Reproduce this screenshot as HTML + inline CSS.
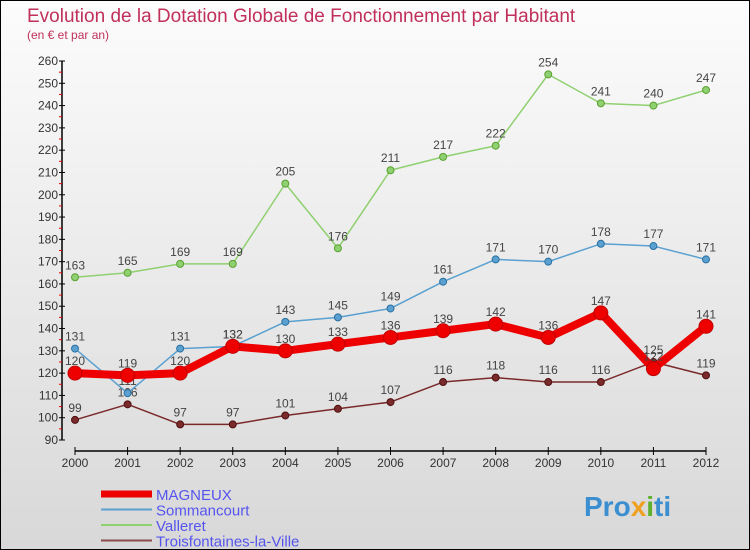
<!DOCTYPE html>
<html><head><meta charset="utf-8"><style>
body{margin:0;}
#c{width:748px;height:548px;border:1px solid #000;background:linear-gradient(#fcfcfc,#d8d8d8);position:relative;overflow:hidden;font-family:"Liberation Sans",sans-serif;}
</style></head><body>
<div id="c">
<svg id="s" width="748" height="548" xmlns="http://www.w3.org/2000/svg">
<text x="26" y="21" font-size="19" fill="#c0305a">Evolution de la Dotation Globale de Fonctionnement par Habitant</text>
<text x="26" y="38" font-size="12" fill="#c0305a">(en € et par an)</text>
<g id="axes"></g><g id="series"></g><g id="legend"></g>
<text x="583" y="515" font-size="28" font-weight="bold" fill="#3b8fd0">Pro<tspan fill="#f0a020">x</tspan><tspan fill="#60b030">i</tspan>ti</text>
</svg>
</div>
<script>
const years=[2000,2001,2002,2003,2004,2005,2006,2007,2008,2009,2010,2011,2012];
const yTicks=[90,100,110,120,130,140,150,160,170,180,190,200,210,220,230,240,250,260];
const magneux=[120,119,120,132,130,133,136,139,142,136,147,122,141];
const sommancourt=[131,111,131,132,143,145,149,161,171,170,178,177,171];
const valleret=[163,165,169,169,205,176,211,217,222,254,241,240,247];
const troisfontaines=[99,106,97,97,101,104,107,116,118,116,116,125,119];
const NS="http://www.w3.org/2000/svg";
function X(i){return 74+i*(631/12);}
function Y(v){return 439-(v-90)*(379/170);}
function mk(tag,attrs,parent){const e=document.createElementNS(NS,tag);for(const k in attrs)e.setAttribute(k,attrs[k]);parent.appendChild(e);return e;}
const ax=document.getElementById('axes');
let l=mk('line',{x1:61,y1:Y(260),x2:61,y2:Y(90),stroke:'#000','stroke-width':1.5},ax);


yTicks.forEach(v=>{
 let t=mk('line',{x1:58,y1:Y(v),x2:64,y2:Y(v),stroke:'#000'},ax);
 
 
 if(v<260){
 let r=mk('line',{x1:58,y1:Y(v+5),x2:61,y2:Y(v+5),stroke:'#e00'},ax);
 
 
 }
 let tx=mk('text',{x:57,y:Y(v)+4,'font-size':12,fill:'#333','text-anchor':'end'},ax);
 tx.textContent=v;
 
 
});
l=mk('line',{x1:X(0),y1:450,x2:X(12),y2:450,stroke:'#000','stroke-width':1.5},ax);


years.forEach((y,i)=>{
 let t=mk('line',{x1:X(i),y1:446,x2:X(i),y2:454,stroke:'#000'},ax);
 
 
 let tx=mk('text',{x:X(i),y:466,'font-size':12,fill:'#333','text-anchor':'middle'},ax);
 tx.textContent=y;
 
 
});
const sg=document.getElementById('series');
function draw(data,color,w,r,name,dark){
 const g=mk('g',{},sg);
 
 
 const p=mk('polyline',{points:data.map((v,i)=>X(i)+','+Y(v)).join(' '),fill:'none',stroke:color,'stroke-width':w,'stroke-linejoin':'round'},g);
 
 
 data.forEach((v,i)=>{
  const c=mk('circle',{cx:X(i),cy:Y(v),r:r,fill:color,stroke:dark,'stroke-width':1},g);
  
  
  const t=mk('text',{x:X(i),y:Y(v)-8,'font-size':12,fill:'#444','text-anchor':'middle'},g);
  t.textContent=v;
  
  
 });
}
draw(troisfontaines,'#7a2a2a',1.5,3.5,'troisfontaines','#501010');
draw(valleret,'#8fd070',1.5,3.5,'valleret','#5aa030');
draw(sommancourt,'#5aa0d0',1.5,3.5,'sommancourt','#2a70a0');
draw(magneux,'#ee0000',8,7,'magneux','#c00000');
const lg=document.getElementById('legend');
const leg=[['MAGNEUX','#ee0000',7],['Sommancourt','#5aa0d0',2],['Valleret','#8fd070',2],['Troisfontaines-la-Ville','#8a4a4a',2]];
leg.forEach((e,i)=>{
 const y=493+i*15.5;
 const g=mk('g',{},lg);
 
 
 mk('line',{x1:100,y1:y,x2:151,y2:y,stroke:e[1],'stroke-width':e[2]},g);
 const t=mk('text',{x:155,y:y+6,'font-size':15,fill:'#5555ee'},g);
 t.textContent=e[0];
 
 
});
</script>
</body></html>
